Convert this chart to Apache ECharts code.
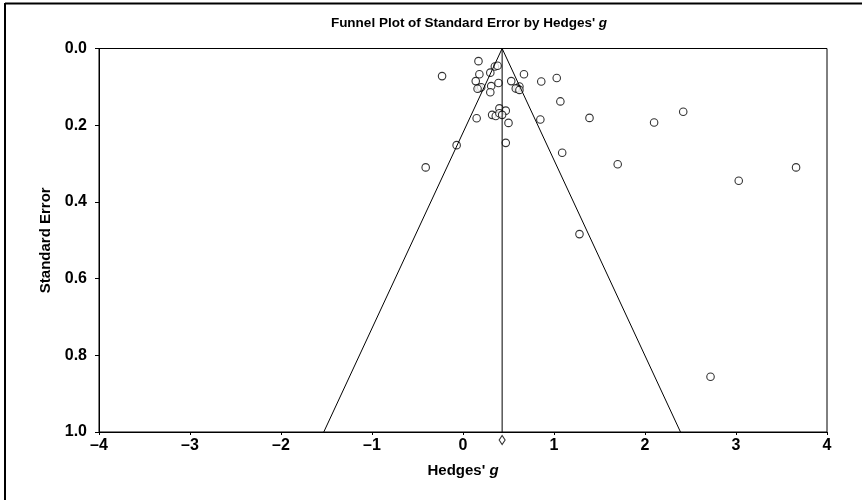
<!DOCTYPE html>
<html>
<head>
<meta charset="utf-8">
<script src="https://cdn.jsdelivr.net/npm/echarts@6/dist/echarts.min.js"></script>
<style>html,body{margin:0;padding:0;background:#fff}#c{width:862px;height:500px}</style>
</head>
<body>
<div id="c"></div>
<script>
// Study effect sizes (Hedges' g) and standard errors
const hedgesG = [0.17,0.35,0.38,-0.23,0.18,0.30,0.67,1.03,0.14,0.31,0.39,0.53,0.86,
  0.18,0.20,0.16,0.62,0.60,0.58,0.62,0.30,1.07,
  0.40,0.47,0.32,0.36,0.40,0.43,0.15,0.50,0.85,-0.07,0.47,1.09,-0.41,
  1.39,2.10,2.42,1.70,3.03,3.66,1.28,2.72];
const stdErr = [0.033,0.047,0.045,0.072,0.067,0.063,0.067,0.077,0.085,0.098,0.090,0.085,0.086,
  0.103,0.101,0.105,0.099,0.105,0.104,0.108,0.114,0.138,
  0.156,0.162,0.173,0.176,0.169,0.173,0.182,0.194,0.185,0.252,0.246,0.272,0.310,
  0.181,0.193,0.165,0.302,0.345,0.310,0.484,0.856];
const pooledG = 0.43;
const diamondSE = 1.021;
const zCrit = 1.96;
const xTicks = [-4,-3,-2,-1,0,1,2,3,4];
const yTicks = [0.0,0.2,0.4,0.6,0.8,1.0];

const points = hedgesG.map((g,i)=>[g, stdErr[i]]);
const funnel = [[pooledG - zCrit*1, 1],[pooledG,0],[pooledG + zCrit*1, 1]];
const meanLine = [[pooledG,0],[pooledG,1]];

const chart = echarts.init(document.getElementById('c'), null, {renderer:'canvas'});
const lab = {fontFamily:'Liberation Sans, Arial, sans-serif', fontWeight:'bold', color:'#000'};
chart.setOption({
  animation:false,
  backgroundColor:'#fff',
  title:{
    text:"Funnel Plot of Standard Error by Hedges' {i|g}",
    left:464, top:11, textAlign:'center',
    textStyle:{...lab, fontSize:13.5, rich:{i:{...lab, fontSize:13.5, fontStyle:'italic'}}}
  },
  grid:{left:99, right:35, top:48.5, bottom:68, show:true, borderColor:'#000', borderWidth:1, backgroundColor:'transparent'},
  xAxis:{
    type:'value', min:xTicks[0], max:xTicks[xTicks.length-1], interval:1,
    name:"Hedges' {i|g}", nameLocation:'middle', nameGap:31,
    nameTextStyle:{...lab, fontSize:15, rich:{i:{...lab, fontSize:15, fontStyle:'italic'}}},
    axisLine:{show:true, onZero:false, lineStyle:{color:'#000', width:1}},
    axisTick:{show:true, length:3, lineStyle:{color:'#000'}},
    splitLine:{show:false},
    axisLabel:{...lab, fontSize:16, margin:6, formatter:v=>String(v).replace('-','\u2013')}
  },
  yAxis:{
    type:'value', min:yTicks[0], max:yTicks[yTicks.length-1], interval:0.2, inverse:true,
    name:'Standard Error', nameLocation:'middle', nameGap:42, nameRotate:90,
    nameTextStyle:{...lab, fontSize:15},
    axisLine:{show:true, onZero:false, lineStyle:{color:'#000', width:1}},
    axisTick:{show:true, length:4, lineStyle:{color:'#000'}},
    splitLine:{show:false},
    axisLabel:{...lab, fontSize:16, margin:12, formatter:v=>v.toFixed(1)}
  },
  series:[
    {type:'line', data:funnel, symbol:'none', lineStyle:{color:'#000', width:1}, silent:true},
    {type:'line', data:meanLine, symbol:'none', lineStyle:{color:'#000', width:1}, silent:true},
    {type:'scatter', data:points, symbol:'circle', symbolSize:7.5,
      itemStyle:{color:'#fff', borderColor:'#000', borderWidth:1.1}},
    {type:'scatter', data:[[pooledG, diamondSE]], symbol:'diamond', symbolSize:[6,9], clip:false,
      itemStyle:{color:'#fff', borderColor:'#000', borderWidth:1.1}}
  ],
  graphic:[
    {type:'line', shape:{x1:5, y1:3.5, x2:862, y2:3.5}, style:{stroke:'#000', lineWidth:2}},
    {type:'line', shape:{x1:5, y1:3, x2:5, y2:500}, style:{stroke:'#000', lineWidth:2}}
  ]
});
</script>
</body>
</html>
